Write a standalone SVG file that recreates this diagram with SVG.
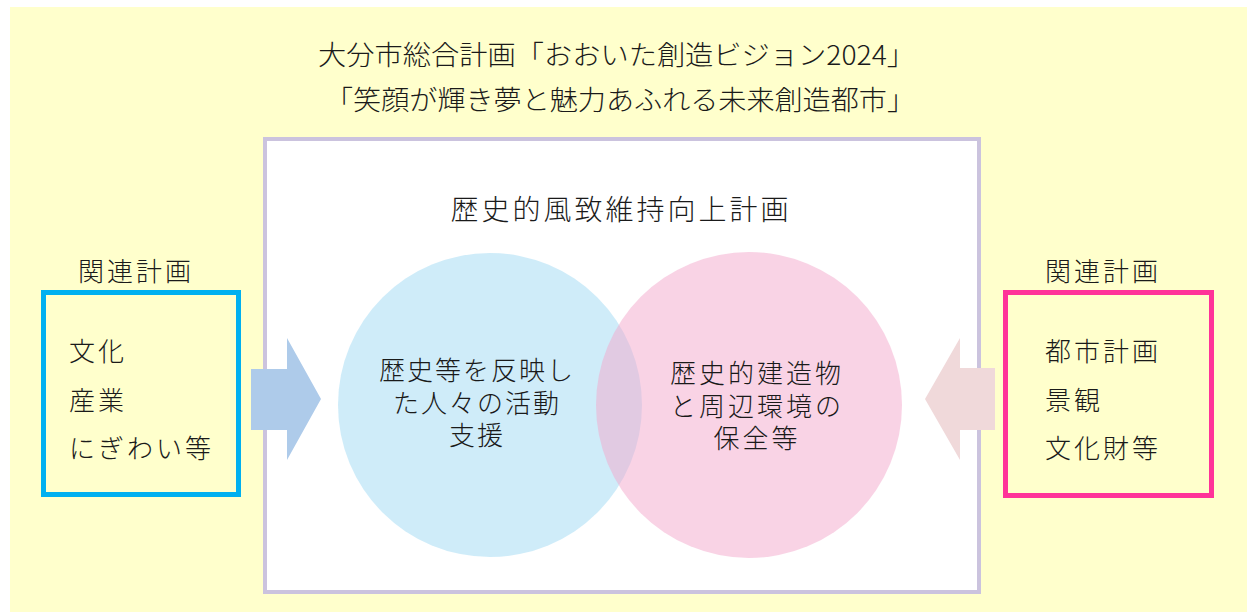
<svg xmlns="http://www.w3.org/2000/svg" width="1247" height="612" viewBox="0 0 1247 612">
<style>
text{font-family:"Noto Sans CJK JP","Noto Sans CJK SC",sans-serif;fill:#1a1a1a;font-weight:300}
.hd{font-size:27px}
.lb{font-size:26px;letter-spacing:3px}
.ct{font-size:26px;text-anchor:middle}
</style>
<rect x="0" y="0" width="1247" height="612" fill="#ffffff"/>
<rect x="10" y="7" width="1237" height="605" fill="#ffffcc"/>
<g id="header">
<text class="hd" x="318" y="65" textLength="597" lengthAdjust="spacingAndGlyphs">大分市総合計画「おおいた創造ビジョン2024」</text>
<text class="hd" x="325" y="110" textLength="590" lengthAdjust="spacingAndGlyphs">「笑顔が輝き夢と魅力あふれる未来創造都市」</text>
</g>
<g id="main">
<rect x="265" y="139" width="714" height="453" fill="#ffffff" stroke="#cbc3de" stroke-width="4"/>
<text x="621" y="220" style="font-size:28px;letter-spacing:3px" text-anchor="middle">歴史的風致維持向上計画</text>
</g>
<g id="circle-left">
<circle cx="490" cy="405" r="152" fill="#a8dcf4" fill-opacity="0.55"/>
<text class="ct" style="letter-spacing:2px"><tspan x="477" y="380">歴史等を反映し</tspan><tspan x="477" y="413">た人々の活動</tspan><tspan x="477" y="445">支援</tspan></text>
</g>
<g id="circle-right">
<circle cx="749" cy="405" r="153" fill="#f4a8cc" fill-opacity="0.5"/>
<text class="ct" style="letter-spacing:3px"><tspan x="757" y="383">歴史的建造物</tspan><tspan x="757" y="416">と周辺環境の</tspan><tspan x="757" y="448">保全等</tspan></text>
</g>
<g id="connectors">
<polygon points="251,369 287,369 287,338 321,399 287,460 287,430 251,430" fill="#aecbea"/>
<polygon points="995,368 960,368 960,338 925,399 960,460 960,430 995,430" fill="#f0d9da"/>
</g>
<g id="related-left">
<text class="lb" x="78" y="281">関連計画</text>
<rect x="43.5" y="292.5" width="195" height="202" fill="none" stroke="#00b0f0" stroke-width="5"/>
<text class="lb" x="69" y="361">文化</text>
<text class="lb" x="69" y="410">産業</text>
<text class="lb" x="69" y="458">にぎわい等</text>
</g>
<g id="related-right">
<text class="lb" x="1045" y="281">関連計画</text>
<rect x="1005.5" y="292.5" width="206" height="203" fill="none" stroke="#ff3399" stroke-width="5"/>
<text class="lb" x="1045" y="361">都市計画</text>
<text class="lb" x="1045" y="410">景観</text>
<text class="lb" x="1045" y="458">文化財等</text>
</g>
</svg>
